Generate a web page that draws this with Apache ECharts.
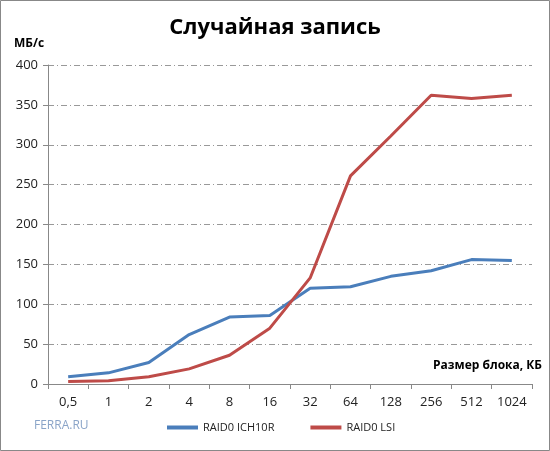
<!DOCTYPE html>
<html><head><meta charset="utf-8">
<script src="https://cdn.jsdelivr.net/npm/echarts@6/dist/echarts.min.js"></script>
<style>html,body{margin:0;padding:0;background:#fff}#c{width:550px;height:451px}</style>
</head><body><div id="c"></div>
<script>
const categories = ['0,5','1','2','4','8','16','32','64','128','256','512','1024'];
const seriesNames = ['RAID0 ICH10R','RAID0 LSI'];
const ich10r = [9,14,27,62,84,86,120,122,135,142,156,155];
const lsi = [3,4,9,19,36,70,133,261,311,362,358,362];
const yTicks = [0,50,100,150,200,250,300,350,400];

const chart = echarts.init(document.getElementById('c'), null, {renderer:'canvas'});
const font = '"Open Sans", "Noto Sans", sans-serif';
chart.setOption({
  backgroundColor:'#fff',
  animation:false,
  title:{text:'Случайная запись', left:'center', top:12,
    textStyle:{fontFamily:font, fontSize:22, fontWeight:'bold', color:'#000'}},
  graphic:[
    {type:'rect', shape:{x:0.5,y:0.5,width:549,height:450}, style:{fill:'none', stroke:'#888', lineWidth:1}},
    {type:'text', left:14, top:38, style:{text:'МБ/с', font:'bold 12px '+font, fill:'#000'}},
    {type:'text', right:8, top:360, style:{text:'Размер блока, КБ', font:'bold 12px '+font, fill:'#000'}},
    {type:'text', left:34, top:420, style:{text:'FERRA.RU', font:'12px '+font, fill:'#8aa4c8'}}
  ],
  legend:{bottom:13, left:162, itemWidth:31, itemHeight:4, itemGap:36, icon:'rect',
    textStyle:{fontFamily:font, fontSize:11, color:'#222'}, data:seriesNames},
  grid:{left:48, right:18, top:65, bottom:67},
  xAxis:{type:'category', data:categories, boundaryGap:true,
    axisLine:{lineStyle:{color:'#888'}},
    axisTick:{show:true, length:5, lineStyle:{color:'#888'}, alignWithLabel:false},
    axisLabel:{fontFamily:font, fontSize:13, color:'#222', margin:12}},
  yAxis:{type:'value', min:0, max:400, interval:50,
    axisLine:{show:true, lineStyle:{color:'#888'}},
    axisTick:{show:true, length:5, lineStyle:{color:'#888'}},
    axisLabel:{fontFamily:font, fontSize:13, color:'#222', margin:10},
    splitLine:{lineStyle:{color:'#999', type:[6,3,1,3], width:1}}},
  series:[
    {name:seriesNames[0], type:'line', data:ich10r, symbol:'none', color:'#4a7ebb',
      lineStyle:{width:3, color:'#4a7ebb'}},
    {name:seriesNames[1], type:'line', data:lsi, symbol:'none', color:'#be4b48',
      lineStyle:{width:3, color:'#be4b48'}}
  ]
});
</script></body></html>
